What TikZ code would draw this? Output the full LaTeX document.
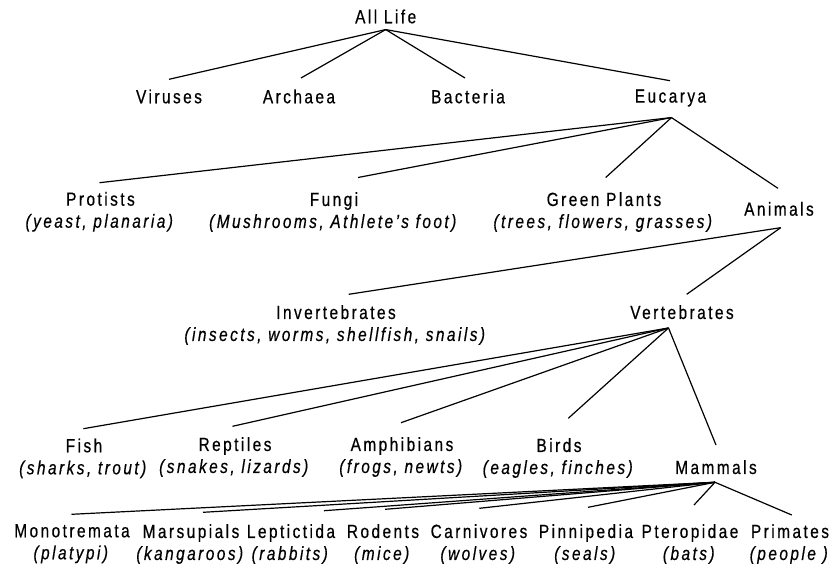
\documentclass[tikz,border=0pt]{standalone}
\usepackage{fontspec}
\setmainfont{Liberation Sans}[FakeStretch=0.81, LetterSpace=13, FakeBold=0.5]
\usepackage{tikz}
\usetikzlibrary{calc}

\begin{document}
\begin{tikzpicture}[
    x=1pt, y=-1pt,
    font=\fontsize{19}{22}\selectfont,
    taxon/.style={inner sep=0pt, anchor=north},
    group/.style={taxon, align=center},
    branch/.style={line width=1.2pt}
]
    \useasboundingbox (0,0) rectangle (831,566);

    % top two levels
    \node[taxon] (alllife) at (385.7,9.3) {All Life};
    \node[taxon] (viruses) at (169,89.3) {Viruses};
    \node[taxon] (archaea) at (299,89.3) {Archaea};
    \node[taxon] (bacteria) at (468,89.3) {Bacteria};
    \node[taxon] (eucarya) at (670.5,89.3) {Eucarya};

    % eucarya
    \node[group] (protists) at (100.5,191.7) {Protists\\\textit{(yeast, planaria)}};
    \node[group] (fungi) at (334,192) {Fungi\\\textit{(Mushrooms, Athlete's foot)}};
    \node[group] (plants) at (604,192) {Green Plants\\\textit{(trees, flowers, grasses)}};
    \node[taxon] (animals) at (779,201.7) {Animals};

    % animals
    \node[group] (invert) at (336,305) {Invertebrates\\\textit{(insects, worms, shellfish, snails)}};
    \node[taxon] (vert) at (682,305) {Vertebrates};

    % vertebrates
    \node[group] (fish) at (84,438.3) {Fish\\\textit{(sharks, trout)}};
    \node[group] (reptiles) at (235,437) {Reptiles\\\textit{(snakes, lizards)}};
    \node[group] (amphib) at (402,437) {Amphibians\\\textit{(frogs, newts)}};
    \node[group] (birds) at (559,438) {Birds\\\textit{(eagles, finches)}};
    \node[taxon] (mammals) at (716,460) {Mammals};

    % mammals
    \foreach \name/\x/\txt/\eg in {
        monotremata/72/Monotremata/platypi,
        marsupials/191/Marsupials/kangaroos,
        leptictida/291/Leptictida/rabbits,
        rodents/383/Rodents/mice,
        carnivores/479/Carnivores/wolves,
        pinnipedia/586/Pinnipedia/seals,
        pteropidae/690/Pteropidae/bats,
        primates/790/Primates/people
    }{
        \node[group] (\name) at (\x,524) {\txt\\\textit{(\eg)}};
    }

    % forks under each parent
    \coordinate (alllife-fork) at ([yshift=-6.3pt]alllife.base);
    \coordinate (eucarya-fork) at ([xshift=1pt, yshift=-15pt]eucarya.base);
    \coordinate (animals-fork) at ([xshift=1.7pt, yshift=-12pt]animals.base);
    \coordinate (vert-fork) at ([xshift=-13.5pt, yshift=-9pt]vert.base);
    \coordinate (mammals-fork) at ([xshift=-1pt, yshift=-8.3pt]mammals.base);

    \foreach \kid/\dx/\dy in {viruses/0/10, archaea/2/11.3, bacteria/-3/11.3, eucarya/-0.5/8.6}
        \draw[branch] (alllife-fork) -- ([xshift=\dx pt, yshift=\dy pt]\kid.north);
    \foreach \kid/\dx/\dy in {protists/-1/9, fungi/24/14.5, plants/1.7/14.5, animals/-1/13.4}
        \draw[branch] (eucarya-fork) -- ([xshift=\dx pt, yshift=\dy pt]\kid.north);
    \foreach \kid/\dx/\dy in {invert/12.7/10.7, vert/4.7/10.7}
        \draw[branch] (animals-fork) -- ([xshift=\dx pt, yshift=\dy pt]\kid.north);
    \foreach \kid/\dx/\dy in {fish/-0.7/9.6, reptiles/-2.5/10.7, amphib/-1/14.3,
                              birds/9.3/19.7, mammals/0/15}
        \draw[branch] (vert-fork) -- ([xshift=\dx pt, yshift=\dy pt]\kid.north);
    \foreach \kid/\dx/\dy in {monotremata/-0.5/9.7, marsupials/12/11.7, leptictida/33/13.3,
                              rodents/2/14.7, carnivores/0.3/15.7, pinnipedia/2/16.7,
                              pteropidae/4/19, primates/1.8/9}
        \draw[branch] (mammals-fork) -- ([xshift=\dx pt, yshift=\dy pt]\kid.north);
\end{tikzpicture}
\end{document}
